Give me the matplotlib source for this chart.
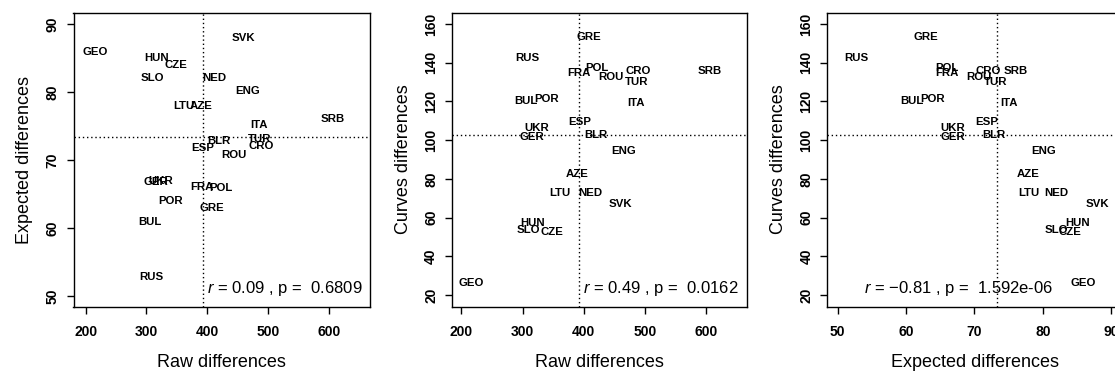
import matplotlib
matplotlib.use("Agg")
import matplotlib.pyplot as plt
import numpy as np

plt.rcParams['font.family'] = ['Liberation Sans', 'DejaVu Sans']
plt.rcParams['mathtext.fontset'] = 'custom'
plt.rcParams['mathtext.rm'] = 'Liberation Sans'
plt.rcParams['mathtext.it'] = 'Liberation Sans:italic'

countries = ["GEO", "HUN", "CZE", "SLO", "NED", "SVK", "ENG", "LTU", "AZE", "ITA",
             "SRB", "BLR", "TUR", "ESP", "CRO", "ROU", "FRA", "POL", "POR", "GRE",
             "BUL", "RUS", "GER", "UKR"]
raw = [216, 317, 348, 310, 411, 460, 466, 361, 390, 485,
       607, 420, 486, 393, 489, 444, 392, 422, 339, 408,
       306, 308, 315, 324]
expected = [85.9, 85.0, 83.9, 82.0, 82.0, 87.9, 80.1, 77.9, 77.9, 75.1,
            76.0, 72.8, 73.1, 71.8, 72.0, 70.7, 66.0, 65.9, 63.9, 62.9,
            60.9, 52.8, 66.8, 66.9]
curves = [26.0, 57.3, 52.7, 53.5, 72.8, 66.8, 94.5, 72.8, 82.5, 119.0,
          135.9, 102.6, 130.2, 109.2, 135.9, 132.8, 134.5, 137.4, 121.1, 153.1,
          120.4, 142.3, 101.4, 106.4]

raw_ticks = [200, 300, 400, 500, 600]
exp_ticks = [50, 60, 70, 80, 90]
curve_ticks = [20, 40, 60, 80, 100, 120, 140, 160]

annotations = ["$r$ = 0.09 , p =  0.6809",
               "$r$ = 0.49 , p =  0.0162",
               "$r$ = \u22120.81 , p =  1.592e-06"]

W, H = 1115, 375
fig = plt.figure(figsize=(W / 100, H / 100), dpi=100)

def ax_at(l, r, t=12.7, b=306.5):
    return fig.add_axes([l / W, 1 - b / H, (r - l) / W, (b - t) / H])

axes = [ax_at(73.5, 370), ax_at(452, 746.7), ax_at(827.3, 1122.3)]

panels = [
    (raw, expected, raw_ticks, exp_ticks, (180, 668), (48.46, 91.66),
     "Raw differences", "Expected differences", 0.976),
    (raw, curves, raw_ticks, curve_ticks, (184.5, 667), (14.06, 165.8),
     "Raw differences", "Curves differences", 0.974),
    (expected, curves, exp_ticks, curve_ticks, (48.5, 91.6), (14.06, 165.8),
     "Expected differences", "Curves differences", 0.765),
]

tick_font = dict(family=['Liberation Sans Narrow', 'Liberation Sans', 'DejaVu Sans'],
                 weight='bold', size=10)

for ax, (xs, ys, xt, yt, xl, yl, xlab, ylab, ax_r), ann in zip(axes, panels, annotations):
    ax.set_xlim(*xl)
    ax.set_ylim(*yl)
    for c, x, y in zip(countries, xs, ys):
        ax.text(x, y, c, ha='center', va='center', fontsize=8.2, fontweight='bold')
    ax.axvline(np.mean(xs), color='black', lw=1.0, ls=(0, (1, 2)))
    ax.axhline(np.mean(ys), color='black', lw=1.0, ls=(0, (1, 2)))
    ax.set_xticks(xt)
    ax.set_yticks(yt)
    ax.set_xticklabels([str(v) for v in xt], fontdict=tick_font)
    ax.set_yticklabels([str(v) for v in yt], fontdict=tick_font, rotation=90, va='center')
    ax.tick_params(direction='out', length=5, width=1.0, color='black')
    ax.tick_params(axis='x', pad=8)
    ax.tick_params(axis='y', pad=5)
    for s in ax.spines.values():
        s.set_linewidth(1.0)
        s.set_color('black')
    ax.set_xlabel(xlab, fontsize=13, labelpad=11)
    ax.set_ylabel(ylab, fontsize=13, labelpad=9)
    ax.text(ax_r, 0.045, ann, transform=ax.transAxes, ha='right', va='baseline', fontsize=12)

fig.savefig("out.png", dpi=100)
